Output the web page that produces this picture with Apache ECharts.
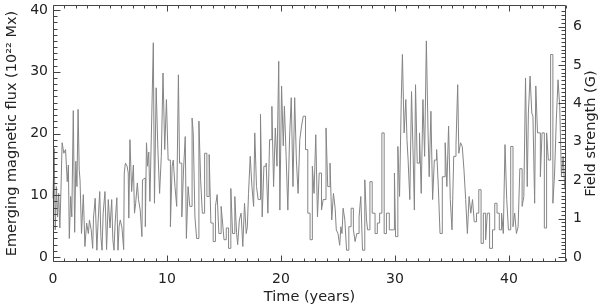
<!DOCTYPE html>
<html>
<head>
<meta charset="utf-8">
<script src="https://cdn.jsdelivr.net/npm/echarts@6/dist/echarts.min.js"></script>
<style>
  html, body { margin: 0; padding: 0; background: #fff; }
  #chart { width: 600px; height: 308px; }
</style>
</head>
<body>
<div id="chart"></div>
<script>
// time (years) and emerging flux (10^22 Mx)
var years = [
  0.0, 0.1, 0.2, 0.3, 0.4, 0.5, 0.6, 0.7, 0.8, 0.95,
  1.1, 1.25, 1.35, 1.43, 1.55, 1.65, 1.78, 1.9, 2.0, 2.1,
  2.2, 2.3, 2.37, 2.5, 2.66, 2.8, 2.95, 3.1, 3.2, 3.35,
  3.48, 3.55, 3.7, 3.85, 3.95, 4.1, 4.2, 4.3, 4.4, 4.56,
  4.7, 4.85, 5.0, 5.15, 5.25, 5.35, 5.45, 5.6, 5.7, 5.8,
  5.9, 6.05, 6.2, 6.25, 6.35, 6.5, 6.6, 6.65, 6.75, 6.9,
  7.05, 7.15, 7.25, 7.4, 7.5, 7.65, 7.8, 7.85, 8.0, 8.1,
  8.2, 8.3, 8.4, 8.5, 8.65, 8.8, 8.9, 9.05, 9.2, 9.35,
  9.5, 9.65, 9.8, 9.95, 10.1, 10.3, 10.45, 10.55, 10.7, 10.85,
  11.0, 11.1, 11.3, 11.45, 11.6, 11.7, 11.85, 12.0, 12.2, 12.3,
  12.45, 12.6, 12.8, 12.95, 13.1, 13.3, 13.5, 13.7, 13.85, 14.05,
  14.25, 14.4, 14.55, 14.75, 14.9, 15.0, 15.2, 15.4, 15.6, 15.75,
  15.95, 16.1, 16.2, 16.35, 16.5, 16.65, 16.8, 16.95, 17.05, 17.15,
  17.3, 17.45, 17.6, 17.7, 17.85, 18.0, 18.2, 18.35, 18.5, 18.7,
  18.85, 19.0, 19.2, 19.35, 19.5, 19.65, 19.8, 19.9, 20.05, 20.2,
  20.3, 20.45, 20.6, 20.75, 20.9, 21.05, 21.2, 21.35, 21.5, 21.65,
  21.8, 21.95, 22.15, 22.35, 22.55, 22.75, 22.9, 23.05, 23.2, 23.35,
  23.55, 23.7, 23.95, 24.1, 24.3, 24.45, 24.6, 24.75, 24.85, 25.0,
  25.15, 25.25, 25.35, 25.45, 25.6, 25.75, 25.95, 26.15, 26.35, 26.5,
  26.65, 26.85, 27.0, 27.15, 27.35, 27.5, 27.6, 27.8, 28.0, 28.25,
  28.45, 28.65, 28.85, 29.05, 29.25, 29.5, 29.75, 29.95, 30.05, 30.25,
  30.4, 30.55, 30.65, 30.8, 30.95, 31.05, 31.15, 31.3, 31.45, 31.6,
  31.7, 31.8, 31.95, 32.15, 32.3, 32.45, 32.6, 32.75, 32.9, 33.0,
  33.15, 33.3, 33.45, 33.65, 33.8, 33.95, 34.15, 34.4, 34.55, 34.7,
  34.85, 35.0, 35.15, 35.35, 35.5, 35.6, 35.75, 35.9, 36.05, 36.2,
  36.35, 36.5, 36.65, 36.8, 36.95, 37.15, 37.35, 37.55, 37.75, 37.95,
  38.1, 38.3, 38.55, 38.75, 38.95, 39.15, 39.35, 39.5, 39.65, 39.8,
  39.95, 40.15, 40.35, 40.5, 40.65, 40.8, 40.95, 41.15, 41.3, 41.45,
  41.6, 41.7, 41.85, 42.0, 42.1, 42.25, 42.35, 42.5, 42.65, 42.75,
  42.9, 43.1, 43.3, 43.45, 43.65, 43.85, 44.0, 44.15, 44.3, 44.45,
  44.6, 44.75, 44.9
];
var flux = [
  9.5, 17.6, 4.4, 11.4, 6.5, 10.3, 4.7, 10.9, 18.5, 16.8,
  17.4, 12.2, 14.9, 3.0, 9.8, 6.5, 23.7, 4.0, 15.5, 11.4,
  23.9, 14.1, 12.5, 3.8, 10.1, 1.7, 5.5, 3.8, 6.0, 4.4,
  1.4, 6.3, 9.5, 1.1, 5.5, 10.6, 3.3, 1.1, 7.1, 10.6,
  1.2, 9.3, 4.7, 9.3, 2.8, 1.1, 5.5, 9.6, 1.1, 5.0,
  6.0, 4.7, 1.2, 13.6, 15.2, 14.7, 13.6, 6.3, 19.0, 10.6,
  14.9, 7.1, 8.7, 12.0, 9.3, 7.6, 3.3, 12.5, 12.8, 4.9,
  18.5, 14.7, 17.0, 9.0, 21.7, 34.7, 8.7, 27.4, 17.4, 10.3,
  16.3, 29.8, 17.4, 25.5, 15.7, 4.9, 14.7, 15.7, 11.4, 8.2,
  29.5, 15.2, 6.5, 14.1, 19.5, 3.0, 11.4, 8.2, 22.5, 20.1,
  6.5, 3.0, 22.0, 12.5, 7.1, 16.8, 9.8, 16.6, 5.5, 2.5,
  8.2, 10.1, 3.8, 8.2, 5.0, 2.8, 4.7, 1.4, 11.1, 3.8,
  9.8, 4.0, 2.0, 6.0, 7.1, 1.7, 8.7, 3.8, 4.9, 10.3,
  16.3, 11.4, 8.2, 20.1, 11.4, 9.3, 23.1, 6.5, 14.7, 15.2,
  7.1, 19.0, 24.4, 11.4, 20.9, 14.7, 31.7, 7.6, 27.7, 18.0,
  24.4, 16.3, 7.6, 19.3, 25.8, 11.4, 25.8, 15.7, 10.3, 19.0,
  21.2, 22.8, 17.4, 7.1, 2.8, 14.7, 10.3, 19.8, 6.5, 13.6,
  7.6, 9.3, 20.9, 11.4, 15.2, 6.0, 10.3, 7.9, 4.4, 3.8,
  1.9, 4.9, 3.8, 7.9, 6.0, 1.1, 4.9, 7.9, 4.4, 2.5,
  3.8, 6.5, 9.8, 1.1, 12.5, 6.0, 4.4, 12.2, 7.1, 3.8,
  5.5, 7.1, 20.1, 3.8, 7.1, 4.4, 4.4, 13.6, 3.3, 17.9,
  9.8, 25.5, 32.8, 20.1, 25.5, 19.0, 15.7, 9.3, 26.8, 15.7,
  7.6, 27.9, 15.2, 20.1, 10.3, 25.5, 16.3, 35.0, 20.1, 13.0,
  23.6, 9.3, 15.7, 17.4, 11.4, 3.8, 13.0, 18.5, 11.4, 21.2,
  9.3, 4.4, 16.3, 18.2, 27.9, 16.8, 18.5, 17.9, 14.1, 9.3,
  3.8, 9.8, 7.1, 9.3, 5.7, 7.1, 10.9, 2.2, 7.1, 2.8,
  7.1, 1.4, 4.4, 8.7, 7.1, 4.4, 7.1, 3.8, 18.2, 9.3,
  4.4, 17.9, 4.9, 7.1, 3.8, 4.9, 14.3, 8.2, 9.8, 29.0,
  11.4, 23.3, 29.3, 23.3, 22.8, 8.7, 27.7, 20.1, 20.1, 13.0,
  20.1, 4.7, 20.1, 15.7, 32.8, 8.7, 13.6, 22.2, 28.7, 24.4,
  13.0, 16.3, 11.0
];

// axis ranges
var xMax = 45;
var fluxMax = 40;
var fieldMax = 6.43;

var textColor = '#222';
var frameColor = '#444';
var font = 'DejaVu Sans';

// IDL style tick marks on all four sides: major + 10 minor per major
var tickSpecs = [];
for (var k = 0; k <= xMax; k++) {
  tickSpecs.push({ side: 'bottom', v: k, major: k % 10 === 0 });
  tickSpecs.push({ side: 'top', v: k, major: k % 10 === 0 });
}
for (var k = 0; k <= fluxMax; k++) {
  tickSpecs.push({ side: 'left', v: k, major: k % 10 === 0 });
}
for (var k = 0; k <= 64; k++) {
  tickSpecs.push({ side: 'right', v: k / 10, major: k % 10 === 0 });
}

var chart = echarts.init(document.getElementById('chart'));

function crisp (n) {
  return Math.round(n) + 0.5;
}

function renderTick (params, api) {
  var t = tickSpecs[params.dataIndex];
  var p, x, y, len;
  if (t.side === 'bottom' || t.side === 'top') {
    len = t.major ? 6 : 3;
    p = api.coord([t.v, 0]);
    x = crisp(p[0]);
    y = t.side === 'bottom' ? 261.5 : 5.5;
    var dir = t.side === 'bottom' ? -1 : 1;
    return {
      type: 'line',
      shape: { x1: x, y1: y, x2: x, y2: y + dir * len },
      style: { stroke: frameColor, lineWidth: 1 }
    };
  }
  len = t.major ? 7 : 4;
  var fluxValue = t.side === 'left' ? t.v : t.v * fluxMax / fieldMax;
  p = api.coord([0, fluxValue]);
  y = crisp(p[1]);
  x = t.side === 'left' ? 53.5 : 565.5;
  var dx = t.side === 'left' ? 1 : -1;
  return {
    type: 'line',
    shape: { x1: x, y1: y, x2: x + dx * len, y2: y },
    style: { stroke: frameColor, lineWidth: 1 }
  };
}

function xAxisCfg (pos, showLabels) {
  return {
    type: 'value',
    position: pos,
    min: 0,
    max: xMax,
    interval: 10,
    offset: 5,
    axisLine: { show: false },
    axisTick: { show: false },
    minorTick: { show: false },
    splitLine: { show: false },
    axisLabel: {
      show: showLabels,
      margin: 10,
      color: textColor,
      fontFamily: font,
      fontSize: 14,
      showMaxLabel: false
    }
  };
}

var bottomX = xAxisCfg('bottom', true);
bottomX.name = 'Time (years)';
bottomX.nameLocation = 'middle';
bottomX.nameGap = 28;
bottomX.nameMoveOverlap = false;
bottomX.nameTextStyle = { color: textColor, fontFamily: font, fontSize: 14.5 };

var option = {
  animation: false,
  backgroundColor: '#fff',
  grid: { left: 53, right: 34, top: 10, bottom: 51, outerBoundsContain: 'axisLabel' },
  xAxis: [bottomX, xAxisCfg('top', false)],
  yAxis: [
    {
      type: 'value',
      position: 'left',
      min: 0,
      max: fluxMax,
      interval: 10,
      name: 'Emerging magnetic flux (10²² Mx)',
      nameLocation: 'middle',
      nameRotate: 90,
      nameGap: 33,
      nameMoveOverlap: false,
      nameTextStyle: { color: textColor, fontFamily: font, fontSize: 14.5 },
      axisLine: { show: false },
      axisTick: { show: false },
      minorTick: { show: false },
      splitLine: { show: false },
      axisLabel: { margin: 5, color: textColor, fontFamily: font, fontSize: 14 }
    },
    {
      type: 'value',
      position: 'right',
      min: 0,
      max: fieldMax,
      interval: 1,
      name: 'Field strength (G)',
      nameLocation: 'middle',
      nameRotate: 90,
      nameGap: 18,
      nameMoveOverlap: false,
      nameTextStyle: { color: textColor, fontFamily: font, fontSize: 14.5 },
      axisLine: { show: false },
      axisTick: { show: false },
      minorTick: { show: false },
      splitLine: { show: false },
      axisLabel: { margin: 7, color: textColor, fontFamily: font, fontSize: 14, showMaxLabel: false }
    }
  ],
  graphic: [
    {
      type: 'rect',
      silent: true,
      z: 10,
      shape: { x: 53.5, y: 5.5, width: 512, height: 256 },
      style: { fill: null, stroke: frameColor, lineWidth: 1 }
    }
  ],
  series: [
    {
      type: 'line',
      step: 'end',
      xAxisIndex: 0,
      yAxisIndex: 0,
      symbol: 'none',
      lineStyle: { color: '#858585', width: 1 },
      data: years.map(function (t, i) { return [t, flux[i]] })
    },
    {
      type: 'custom',
      xAxisIndex: 0,
      yAxisIndex: 0,
      silent: true,
      clip: false,
      z: 5,
      renderItem: renderTick,
      data: tickSpecs.map(function () { return [0, 0] })
    }
  ]
};

chart.setOption(option);
</script>
</body>
</html>
